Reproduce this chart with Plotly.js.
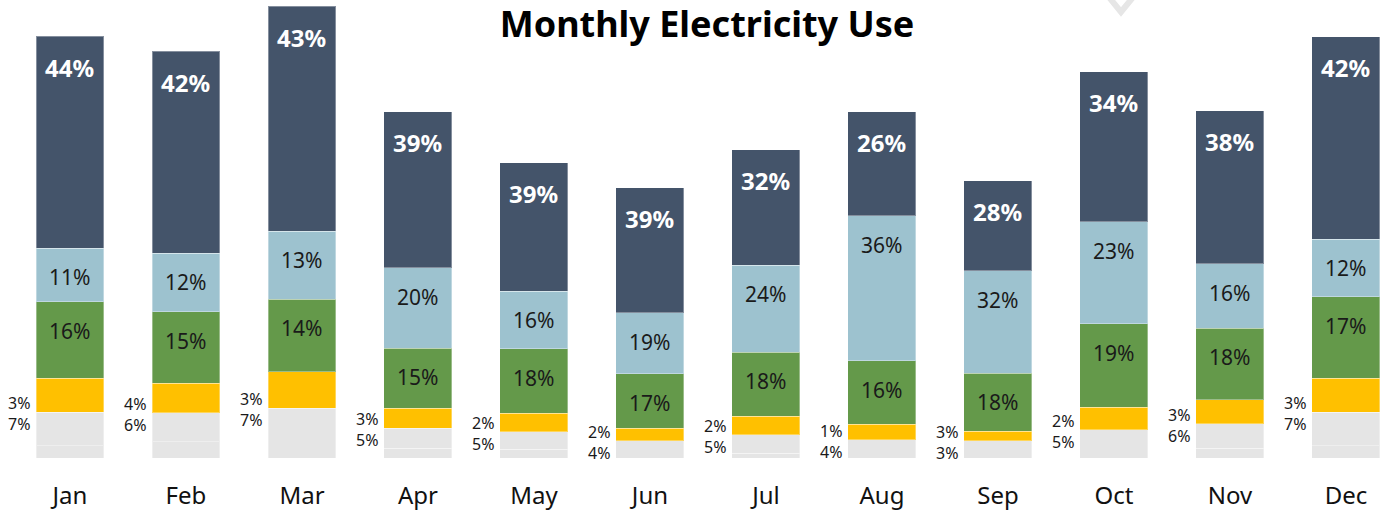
<!DOCTYPE html>
<html>
<head>
<meta charset="utf-8">
<script src="https://cdn.plot.ly/plotly-3.0.1.min.js"></script>
<style>html,body{margin:0;padding:0;background:#fff;}#chart{width:1384px;height:510px;}</style>
</head>
<body>
<div id="chart"></div>
<script>
// ---- data ----
const months = ['Jan','Feb','Mar','Apr','May','Jun','Jul','Aug','Sep','Oct','Nov','Dec'];
// segment sizes (kWh), bottom to top
const baseLoad  = [25, 33, null, 20, 18, null, 10, null, null, null, 20, 25];
const otherUse  = [67, 58, 100, 40, 35, 35, 37, 37, 35, 57, 49, 67];
const lighting  = [68, 59, 73, 40, 37, 25, 37, 31, 19, 45, 48, 68];
const appliance = [153, 143, 145, 120, 129, 109, 128, 127, 116, 167, 143, 163];
const cooling   = [107, 117, 136, 161, 115, 122, 174, 290, 205, 204, 129, 115];
const heating   = [424, 404, 450, 312, 257, 250, 231, 208, 180, 300, 306, 405];
// share labels (%)
const otherPct     = [7, 6, 7, 5, 5, 4, 5, 4, 3, 5, 6, 7];
const lightingPct  = [3, 4, 3, 3, 2, 2, 2, 1, 3, 2, 3, 3];
const appliancePct = [16, 15, 14, 15, 18, 17, 18, 16, 18, 19, 18, 17];
const coolingPct   = [11, 12, 13, 20, 16, 19, 24, 36, 32, 23, 16, 12];
const heatingPct   = [44, 42, 43, 39, 39, 39, 32, 26, 28, 34, 38, 42];

// ---- styling ----
const FONT = 'Noto Sans, Open Sans, sans-serif';
const colors = {base:'#e5e5e5', other:'#e5e5e5', light:'#ffc000', appl:'#64994a', cool:'#9dc2cf', heat:'#44546a'};
const edge = {color:'rgba(255,255,255,0.35)', width:1};

function bar(name, y, color){
  return {type:'bar', name:name, x:months.map((m,i)=>i), y:y,
    marker:{color:color, line:edge}, hoverinfo:'skip', showlegend:false};
}
const traces = [
  bar('Base', baseLoad, colors.base),
  bar('Other', otherUse, colors.other),
  bar('Lighting', lighting, colors.light),
  bar('Appliances', appliance, colors.appl),
  bar('Cooling', cooling, colors.cool),
  bar('Heating', heating, colors.heat)
];

const v = a => a.map(x => x == null ? 0 : x);
const annotations = [];
months.forEach((m, i) => {
  const b = v(baseLoad)[i];
  const grayTop = b + otherUse[i];
  const yelTop = grayTop + lighting[i];
  const grnTop = yelTop + appliance[i];
  const lbTop = grnTop + cooling[i];
  const top = lbTop + heating[i];
  annotations.push({x:i, y:top, xref:'x', yref:'y', text:heatingPct[i]+'%', showarrow:false,
    yanchor:'middle', yshift:-31, font:{family:FONT, size:24, color:'#ffffff', weight:700}});
  annotations.push({x:i, y:lbTop, xref:'x', yref:'y', text:coolingPct[i]+'%', showarrow:false,
    yanchor:'middle', yshift:-29, font:{family:FONT, size:21, color:'#1a1a1a'}});
  annotations.push({x:i, y:grnTop, xref:'x', yref:'y', text:appliancePct[i]+'%', showarrow:false,
    yanchor:'middle', yshift:-29, font:{family:FONT, size:21, color:'#1a1a1a'}});
  annotations.push({x:i, y:grayTop, xref:'x', yref:'y', text:lightingPct[i]+'%', showarrow:false,
    xanchor:'right', xshift:-38, yanchor:'middle', yshift:9, font:{family:FONT, size:16, color:'#1a1a1a'}});
  annotations.push({x:i, y:grayTop, xref:'x', yref:'y', text:otherPct[i]+'%', showarrow:false,
    xanchor:'right', xshift:-38, yanchor:'middle', yshift:-12, font:{family:FONT, size:16, color:'#1a1a1a'}});
});

const W = 1384, PH = 458;
const px = p => p / W, py = p => 1 - p / PH;
const layout = {
  width: 1384, height: 510,
  margin: {l:0, r:0, t:0, b:52},
  paper_bgcolor:'#ffffff', plot_bgcolor:'#ffffff',
  barmode:'stack', bargap:0.414,
  title:{text:'Monthly Electricity Use', x:707/1384, xanchor:'center', xref:'paper',
    y:1-24/510, yanchor:'middle', yref:'container',
    font:{family:FONT, size:36, color:'#000000', weight:700}},
  xaxis:{range:[-0.6034, 11.328], tickmode:'array', tickvals:months.map((m,i)=>i), ticktext:months,
    showgrid:false, zeroline:false, showline:false, ticks:'', ticklabelstandoff:21,
    tickfont:{family:FONT, size:24, color:'#111111'}, fixedrange:true},
  yaxis:{range:[0, 916], visible:false, showgrid:false, zeroline:false, fixedrange:true},
  shapes:[
    {type:'path', xref:'paper', yref:'paper', layer:'below',
     path:'M '+px(1108)+','+py(-4)+' L '+px(1121)+','+py(12)+' L '+px(1134)+','+py(-4),
     line:{color:'#e6e6e6', width:6}}
  ],
  annotations: annotations
};
Plotly.newPlot('chart', traces, layout, {displayModeBar:false, staticPlot:true});
</script>
</body>
</html>
